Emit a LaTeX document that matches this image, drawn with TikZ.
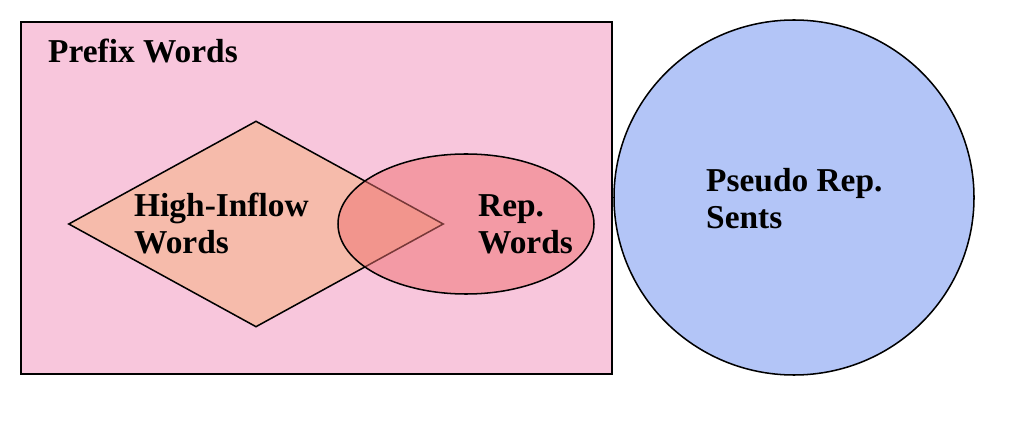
\documentclass[tikz,border=0pt]{standalone}
\usepackage{fontspec}
\setmainfont{Liberation Serif}
\usetikzlibrary{shapes.geometric}
\definecolor{prefixpink}{HTML}{F8C6DC}
\definecolor{inflowpeach}{HTML}{F6BBAB}
\definecolor{repred}{HTML}{EF7070}
\definecolor{pseudoblue}{HTML}{B3C5F7}
\tikzset{
  setshape/.style={draw=black, line width=1.3pt, inner sep=0pt},
  setlabel/.style={font=\fontsize{28.5}{32.4}\selectfont\bfseries, align=left, inner sep=0pt}
}
\begin{document}
\begin{tikzpicture}[x=0.3mm, y=-0.3mm]
  \useasboundingbox (0,0) rectangle (1036,422);

  \node[setshape, rectangle, fill=prefixpink, minimum width=177.3mm, minimum height=105.6mm] (prefix) at (316.5,198) {};
  \node[setshape, diamond, fill=inflowpeach, minimum width=112.5mm, minimum height=61.8mm] (inflow) at (256,224) {};
  \node[setshape, ellipse, fill=repred, fill opacity=0.5, minimum width=76.8mm, minimum height=42mm] (rep) at (466,224) {};
  \node[setshape, ellipse, fill=pseudoblue, minimum width=108mm, minimum height=106.5mm] (pseudo) at (794,197.5) {};

  \node[setlabel, anchor=base west] (prefixlabel) at (48,63) {Prefix Words};
  \node[setlabel, anchor=base west] (inflowlabel) at (134,254) {High-Inflow\\Words};
  \node[setlabel, anchor=base west] (replabel) at (478,254) {Rep.\\Words};
  \node[setlabel, anchor=base west] (pseudolabel) at (706,229) {Pseudo Rep.\\Sents};
\end{tikzpicture}
\end{document}
